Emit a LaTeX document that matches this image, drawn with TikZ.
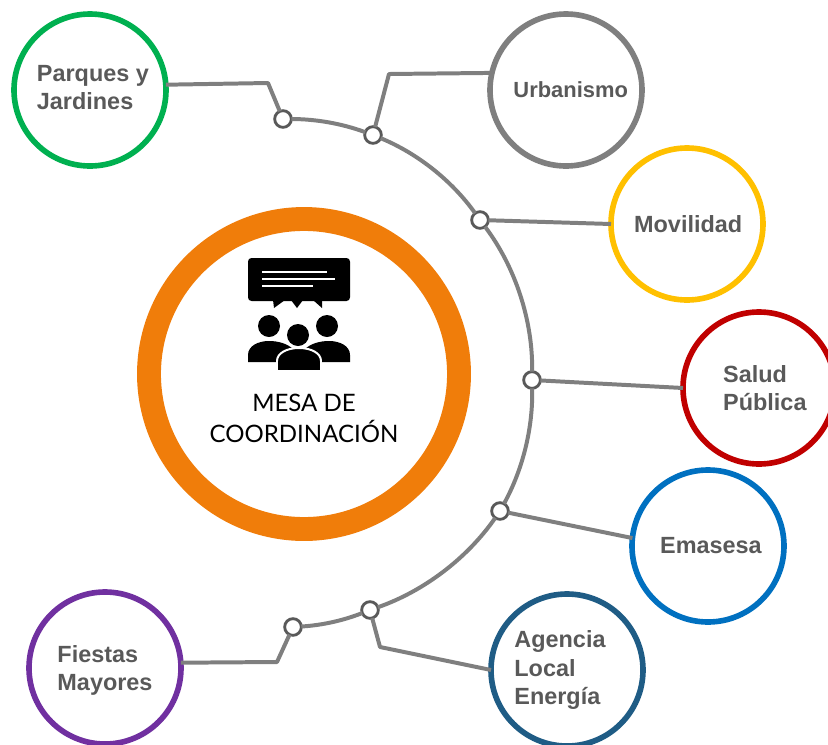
\documentclass[tikz,border=0pt]{standalone}
\usepackage{xcolor}
\usepackage{fontspec}
\setmainfont{Liberation Sans}
\newfontfamily\mesafont{Lato}
\definecolor{linkgray}{HTML}{7F7F7F}
\definecolor{dotgray}{HTML}{595959}
\definecolor{textgray}{HTML}{595959}
\definecolor{mesaorange}{HTML}{F07D0A}
\definecolor{parquesgreen}{HTML}{00B050}
\definecolor{movilidadyellow}{HTML}{FFC000}
\definecolor{saludred}{HTML}{C00000}
\definecolor{emasesablue}{HTML}{0070C0}
\definecolor{agenciablue}{HTML}{1F5C85}
\definecolor{fiestaspurple}{HTML}{7030A0}
\begin{document}
\begin{tikzpicture}[x=0.03cm,y=-0.03cm,
ring/.style={circle,line width=4.8pt,minimum size=4.56cm,inner sep=0pt,outer sep=0pt},
tag/.style={align=left,text=textgray,font=\fontsize{20}{24}\selectfont\bfseries},
dot/.style={circle,draw=dotgray,line width=2.4pt,fill=white,minimum size=0.5cm,inner sep=0pt,outer sep=0pt},
link/.style={draw=linkgray,line width=3.4pt,line join=round,looseness=0.85}]
\clip (0,0) rectangle (828,744);
\path (304,374) node(mesa) [circle,draw=mesaorange,line width=20.4pt,minimum size=9.3cm,inner sep=0pt] {}
(304,418) node(mesatext) [align=center,font=\fontsize{20.5}{26.4}\selectfont\mesafont] {MESA DE\\COORDINACIÓN};
\path (90,90) node(parques) [ring,draw=parquesgreen,label={[tag,xshift=2.5pt,yshift=2pt]center:{Parques y\\Jardines}}] {}
(566,90) node(urbanismo) [ring,draw=linkgray,label={[tag,font=\fontsize{18.7}{24}\selectfont\bfseries,xshift=4pt]center:Urbanismo}] {}
(687,224) node(movilidad) [ring,draw=movilidadyellow,label={[tag,xshift=1pt]center:Movilidad}] {}
(759,388) node(salud) [ring,draw=saludred,label={[tag,xshift=5pt]center:{Salud\\Pública}}] {}
(708,546) node(emasesa) [ring,draw=emasesablue,label={[tag,xshift=2.5pt]center:Emasesa}] {}
(567,670) node(agencia) [ring,draw=agenciablue,label={[tag,xshift=-6pt]center:{Agencia\\Local\\Energía}}] {}
(105,668) node(fiestas) [ring,draw=fiestaspurple,label={[tag,yshift=-2pt]center:{Fiestas\\Mayores}}] {};
\path (283,119) node(d1) [dot] {}
(373,135) node(d2) [dot] {}
(480,220) node(d3) [dot] {}
(532,380) node(d4) [dot] {}
(500,511) node(d5) [dot] {}
(370,610) node(d6) [dot] {}
(293,627) node(d7) [dot] {};
\coordinate (e1) at (268,83);
\coordinate (e2) at (389,74);
\coordinate (e6) at (380,647);
\coordinate (e7) at (277,662);
\draw[link] (d1) to[bend left=10] (d2);
\draw[link] (d2) to[bend left=16] (d3);
\draw[link] (d3) to[bend left=19] (d4);
\draw[link] (d4) to[bend left=15] (d5);
\draw[link] (d5) to[bend left=18] (d6);
\draw[link] (d6) to[bend left=9] (d7);
\draw[link] (parques.4) -- (e1) -- (d1);
\draw[link] (urbanismo.167) -- (e2) -- (d2);
\draw[link] (movilidad.west) -- (d3);
\draw[link] (salud.west) -- (d4);
\draw[link] (emasesa.174) -- (d5);
\draw[link] (agencia.west) -- (e6) -- (d6);
\draw[link] (fiestas.4) -- (e7) -- (d7);
\fill[rounded corners=3pt] (248,258) rectangle (350,301);
\fill (273,300) -- (274,308) -- (285,300) -- cycle
(291,300) -- (297,308) -- (303,300) -- cycle
(313,300) -- (322,308) -- (322,300) -- cycle;
\draw[white,line width=1.7pt] (262,272) -- (327,272) (262,279) -- (335,279) (262,286) -- (313,286);
\fill (269,326) circle (11) (327,326) circle (11) (298,335) circle (11);
\fill (248,362) -- (248,355) .. controls (248,346) and (258,341) .. (269,341) .. controls (279,341) and (287,344) .. (292,348) -- (292,362) -- cycle;
\fill (350,362) -- (350,355) .. controls (350,346) and (340,341) .. (329,341) .. controls (319,341) and (311,344) .. (306,348) -- (306,362) -- cycle;
\draw[white,line width=1.7pt,fill=black] (277,371) -- (277,361) .. controls (277,353) and (287,348) .. (299,348) .. controls (311,348) and (321,353) .. (321,361) -- (321,371) -- cycle;
\end{tikzpicture}
\end{document}
